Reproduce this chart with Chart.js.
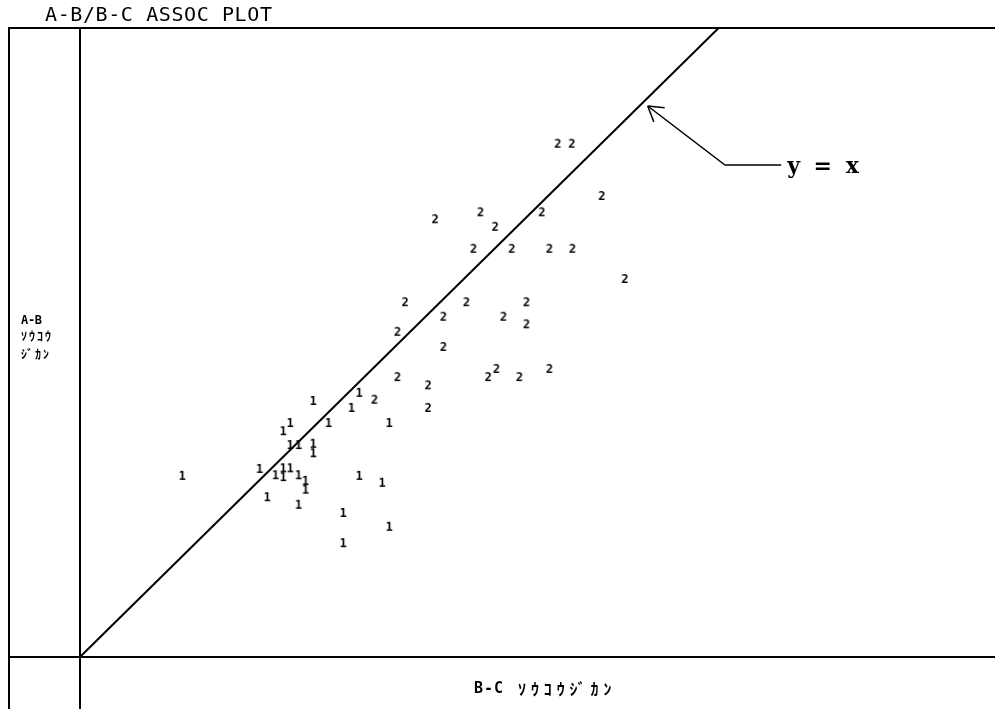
<!DOCTYPE html>
<html>
<head>
<meta charset="utf-8">
<title>A-B/B-C ASSOC PLOT</title>
<script src="https://cdn.jsdelivr.net/npm/chart.js@4.4.1/dist/chart.umd.min.js"></script>
<style>
  html, body { margin: 0; padding: 0; background: #fff; }
</style>
</head>
<body>
<canvas id="assocChart" width="995" height="709"></canvas>
<script>
// グループ1 (B-C, A-B)
const group1X = [16.0, 36.5, 43.7, 42.5, 38.9, 48.4, 31.8, 32.9, 32.9, 34.2, 36.5, 36.5, 28.1, 30.6,
  31.8, 31.8, 32.9, 34.2, 35.3, 35.3, 29.3, 34.2, 43.7, 47.3, 41.2, 48.4, 41.2];
const group1Y = [28.8, 40.7, 42.0, 39.6, 37.2, 37.2, 35.9, 37.2, 33.7, 33.7, 33.9, 32.4, 29.9, 28.9,
  30.0, 28.6, 30.0, 28.9, 28.0, 26.6, 25.4, 24.2, 28.8, 27.7, 22.9, 20.7, 18.1];

// グループ2
const group2X = [74.8, 77.0, 81.7, 55.6, 62.7, 65.0, 72.3, 61.6, 67.6, 73.5, 77.1, 85.3, 50.9, 60.5,
  69.9, 56.9, 66.3, 69.9, 49.7, 56.9, 49.7, 54.5, 63.9, 65.2, 68.8, 73.5, 46.1, 54.5];
const group2Y = [81.6, 81.6, 73.3, 69.6, 70.7, 68.4, 70.7, 64.9, 64.9, 64.9, 64.9, 60.1, 56.4, 56.4,
  56.4, 54.1, 54.1, 52.9, 51.7, 49.3, 44.5, 43.2, 44.5, 45.8, 44.5, 45.8, 40.9, 39.6];

// y = x の直線と注記の矢印
const diagX = [0, 100];
const diagY = [0, 100];
const arrowX = [88.9, 101.0, 109.8];
const arrowY = [87.6, 78.2, 78.2];

const xMax = 142.5;
const yMax = 100;

const titleText = "A-B/B-C ASSOC PLOT";
const yLabelLines = ["A-B", "ｿｳｺｳ", "ｼﾞｶﾝ"];
const xLabelParts = ["B-C", "ｿｳｺｳｼﾞｶﾝ"];
const lineLabel = "y = x";

const toPoints = (xs, ys) => xs.map((x, i) => ({ x: x, y: ys[i] }));

// 点の代わりに数字の文字を使う
function glyph(ch) {
  const c = document.createElement("canvas");
  c.width = 10;
  c.height = 12;
  const g = c.getContext("2d");
  g.fillStyle = "#000";
  g.font = 'bold 12px "DejaVu Sans Mono"';
  g.textAlign = "center";
  g.textBaseline = "middle";
  g.fillText(ch, 5, 6.5);
  return c;
}

const framePlugin = {
  id: "frame",
  beforeDatasetsDraw(chart) {
    const { ctx, scales } = chart;
    const x0 = scales.x.getPixelForValue(0);
    const y0 = scales.y.getPixelForValue(0);
    const top = scales.y.getPixelForValue(yMax);
    ctx.save();
    ctx.strokeStyle = "#000";
    ctx.lineWidth = 2;
    ctx.beginPath();
    ctx.moveTo(9, chart.height);
    ctx.lineTo(9, top);
    ctx.lineTo(chart.width, top);
    ctx.moveTo(x0, top);
    ctx.lineTo(x0, chart.height);
    ctx.moveTo(9, y0);
    ctx.lineTo(chart.width, y0);
    ctx.stroke();
    ctx.restore();
  },
  afterDraw(chart) {
    const { ctx, scales } = chart;
    ctx.save();
    ctx.fillStyle = "#000";
    ctx.textBaseline = "alphabetic";

    ctx.font = '20px "DejaVu Sans Mono"';
    ctx.letterSpacing = "0.6px";
    ctx.fillText(titleText, 45, 21);

    // 縦軸の見出し (3行)
    ctx.textBaseline = "middle";
    ctx.font = 'bold 12px "DejaVu Sans Mono"';
    ctx.letterSpacing = "-0.3px";
    ctx.fillText(yLabelLines[0], 21, 321);
    ctx.font = 'bold 12px "DejaVu Sans Mono", "Noto Sans CJK JP"';
    ctx.letterSpacing = "2px";
    ctx.fillText(yLabelLines[1], 21, 338);
    ctx.fillText(yLabelLines[2], 21, 356);

    // 横軸の見出し
    ctx.font = 'bold 15px "DejaVu Sans Mono"';
    ctx.letterSpacing = "1px";
    ctx.fillText(xLabelParts[0], 474, 689);
    ctx.font = 'bold 16px "Noto Sans CJK JP"';
    ctx.letterSpacing = "4.9px";
    ctx.fillText(xLabelParts[1], 518, 689);

    // 矢印の先端
    const tx = scales.x.getPixelForValue(arrowX[0]);
    const ty = scales.y.getPixelForValue(arrowY[0]);
    const ex = scales.x.getPixelForValue(arrowX[1]);
    const ey = scales.y.getPixelForValue(arrowY[1]);
    const ang = Math.atan2(ey - ty, ex - tx);
    ctx.strokeStyle = "#000";
    ctx.lineWidth = 1.5;
    ctx.beginPath();
    [-0.55, 0.55].forEach((d) => {
      ctx.moveTo(tx, ty);
      ctx.lineTo(tx + 17 * Math.cos(ang + d), ty + 17 * Math.sin(ang + d));
    });
    ctx.stroke();

    const lx = scales.x.getPixelForValue(arrowX[2]);
    const ly = scales.y.getPixelForValue(arrowY[2]);
    ctx.letterSpacing = "3px";
    ctx.font = 'bold 22px "DejaVu Serif"';
    ctx.fillText(lineLabel, lx + 6, ly + 2);
    ctx.restore();
  },
};

new Chart(document.getElementById("assocChart"), {
  type: "scatter",
  data: {
    datasets: [
      {
        label: "y=x",
        type: "line",
        data: toPoints(diagX, diagY),
        borderColor: "#000",
        borderWidth: 2,
        pointRadius: 0,
      },
      {
        label: "arrow",
        type: "line",
        data: toPoints(arrowX, arrowY),
        borderColor: "#000",
        borderWidth: 1.5,
        pointRadius: 0,
        clip: false,
      },
      {
        label: "1",
        data: toPoints(group1X, group1Y),
        pointStyle: glyph("1"),
        pointRadius: 3,
      },
      {
        label: "2",
        data: toPoints(group2X, group2Y),
        pointStyle: glyph("2"),
        pointRadius: 3,
      },
    ],
  },
  options: {
    responsive: false,
    animation: false,
    events: [],
    layout: {
      padding: { left: 80, top: 28, right: 0, bottom: 52 },
    },
    scales: {
      x: { type: "linear", min: 0, max: xMax, display: false },
      y: { type: "linear", min: 0, max: yMax, display: false },
    },
    plugins: {
      legend: { display: false },
      tooltip: { enabled: false },
    },
  },
  plugins: [framePlugin],
});
</script>
</body>
</html>
